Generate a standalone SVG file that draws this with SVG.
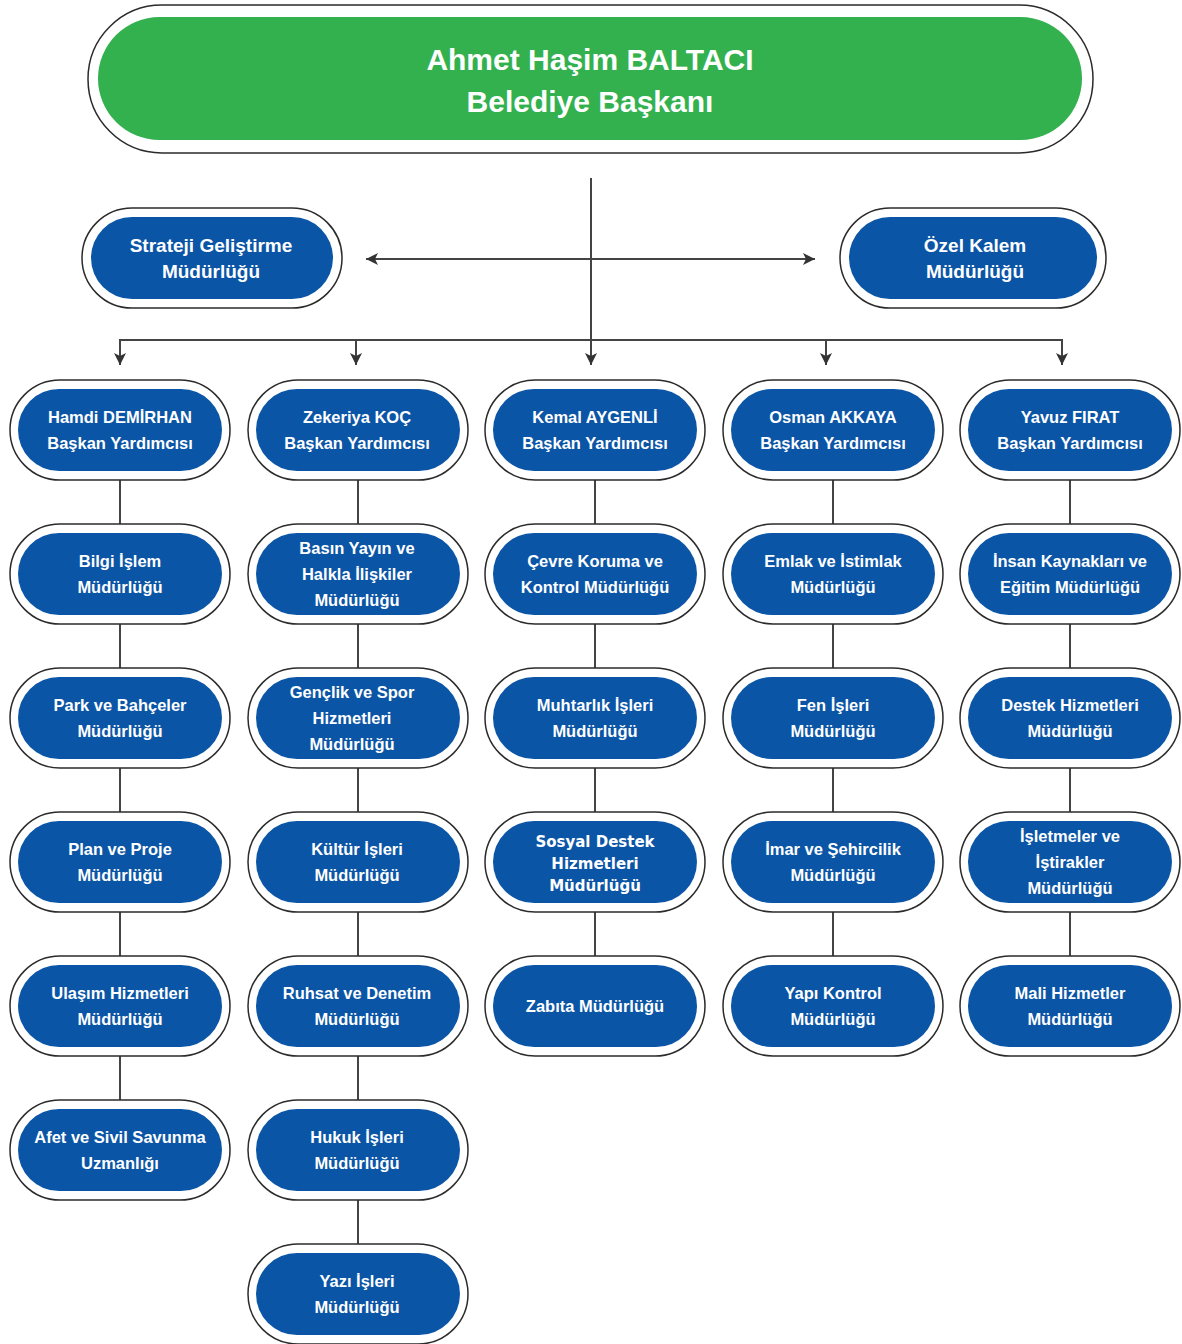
<svg xmlns="http://www.w3.org/2000/svg" width="1182" height="1344" viewBox="0 0 1182 1344">
<defs>
<style>
.outer{fill:#fff;stroke:#2b2b2b;stroke-width:1.5}
.inner{fill:#0b55a6}
.green{fill:#33b14f}
.t{font-family:"Liberation Sans",Arial,sans-serif;font-weight:bold;font-size:16.5px;fill:#fff;text-anchor:middle}
.ts{font-family:"Liberation Sans",Arial,sans-serif;font-weight:bold;font-size:19px;fill:#fff;text-anchor:middle}
.tw{font-family:"DejaVu Sans","Liberation Sans",Arial,sans-serif;font-weight:bold;font-size:15px;fill:#fff;text-anchor:middle}
.title{font-family:"Liberation Sans",Arial,sans-serif;font-weight:bold;font-size:30px;fill:#fff;text-anchor:middle}
.ln{fill:none;stroke:#444;stroke-width:2}
</style>
<marker id="ah" markerUnits="userSpaceOnUse" markerWidth="12" markerHeight="12" refX="12" refY="6" orient="auto-start-reverse" viewBox="0 0 12 12">
<path d="M0,0 L12,6 L0,12 L3,6 z" fill="#333"/>
</marker>
</defs>
<rect width="1182" height="1344" fill="#fff"/>

<g id="connectors">
<line class="ln" x1="591" y1="178" x2="591" y2="365" marker-end="url(#ah)"/>
<line class="ln" x1="366" y1="259" x2="815" y2="259" marker-start="url(#ah)" marker-end="url(#ah)"/>
<line class="ln" x1="120" y1="340" x2="1062" y2="340"/>
<line class="ln" x1="120" y1="339" x2="120" y2="365" marker-end="url(#ah)"/>
<line class="ln" x1="356" y1="339" x2="356" y2="365" marker-end="url(#ah)"/>
<line class="ln" x1="826" y1="339" x2="826" y2="365" marker-end="url(#ah)"/>
<line class="ln" x1="1062" y1="339" x2="1062" y2="365" marker-end="url(#ah)"/>
<!-- column 1 -->
<line class="ln" x1="120" y1="480" x2="120" y2="524"/>
<line class="ln" x1="120" y1="624" x2="120" y2="668"/>
<line class="ln" x1="120" y1="768" x2="120" y2="812"/>
<line class="ln" x1="120" y1="912" x2="120" y2="956"/>
<line class="ln" x1="120" y1="1056" x2="120" y2="1100"/>
<!-- column 2 -->
<line class="ln" x1="358" y1="480" x2="358" y2="524"/>
<line class="ln" x1="358" y1="624" x2="358" y2="668"/>
<line class="ln" x1="358" y1="768" x2="358" y2="812"/>
<line class="ln" x1="358" y1="912" x2="358" y2="956"/>
<line class="ln" x1="358" y1="1056" x2="358" y2="1100"/>
<line class="ln" x1="358" y1="1200" x2="358" y2="1244"/>
<!-- column 3 -->
<line class="ln" x1="595" y1="480" x2="595" y2="524"/>
<line class="ln" x1="595" y1="624" x2="595" y2="668"/>
<line class="ln" x1="595" y1="768" x2="595" y2="812"/>
<line class="ln" x1="595" y1="912" x2="595" y2="956"/>
<!-- column 4 -->
<line class="ln" x1="833" y1="480" x2="833" y2="524"/>
<line class="ln" x1="833" y1="624" x2="833" y2="668"/>
<line class="ln" x1="833" y1="768" x2="833" y2="812"/>
<line class="ln" x1="833" y1="912" x2="833" y2="956"/>
<!-- column 5 -->
<line class="ln" x1="1070" y1="480" x2="1070" y2="524"/>
<line class="ln" x1="1070" y1="624" x2="1070" y2="668"/>
<line class="ln" x1="1070" y1="768" x2="1070" y2="812"/>
<line class="ln" x1="1070" y1="912" x2="1070" y2="956"/>
</g>

<g id="baskan">
<rect class="outer" x="88" y="5" width="1005" height="148" rx="74"/>
<rect class="green" x="98" y="17" width="984" height="123" rx="61.5"/>
<text class="title" x="590" y="70">Ahmet Haşim BALTACI</text>
<text class="title" x="590" y="112">Belediye Başkanı</text>
</g>

<g id="strateji">
<rect class="outer" x="82" y="208" width="260" height="100" rx="50"/>
<rect class="inner" x="91" y="217" width="242" height="82" rx="41"/>
<text class="ts" x="211" y="252">Strateji Geliştirme</text>
<text class="ts" x="211" y="278">Müdürlüğü</text>
</g>

<g id="ozelkalem">
<rect class="outer" x="840" y="208" width="266" height="100" rx="50"/>
<rect class="inner" x="849" y="217" width="248" height="82" rx="41"/>
<text class="ts" x="975" y="252">Özel Kalem</text>
<text class="ts" x="975" y="278">Müdürlüğü</text>
</g>

<!-- Column 1 -->
<g id="hamdi">
<rect class="outer" x="10" y="380" width="220" height="100" rx="50"/>
<rect class="inner" x="18" y="389" width="204" height="82" rx="41"/>
<text class="t" x="120" y="423">Hamdi DEMİRHAN</text>
<text class="t" x="120" y="449">Başkan Yardımcısı</text>
</g>
<g id="bilgi">
<rect class="outer" x="10" y="524" width="220" height="100" rx="50"/>
<rect class="inner" x="18" y="533" width="204" height="82" rx="41"/>
<text class="t" x="120" y="567">Bilgi İşlem</text>
<text class="t" x="120" y="593">Müdürlüğü</text>
</g>
<g id="park">
<rect class="outer" x="10" y="668" width="220" height="100" rx="50"/>
<rect class="inner" x="18" y="677" width="204" height="82" rx="41"/>
<text class="t" x="120" y="711">Park ve Bahçeler</text>
<text class="t" x="120" y="737">Müdürlüğü</text>
</g>
<g id="plan">
<rect class="outer" x="10" y="812" width="220" height="100" rx="50"/>
<rect class="inner" x="18" y="821" width="204" height="82" rx="41"/>
<text class="t" x="120" y="855">Plan ve Proje</text>
<text class="t" x="120" y="881">Müdürlüğü</text>
</g>
<g id="ulasim">
<rect class="outer" x="10" y="956" width="220" height="100" rx="50"/>
<rect class="inner" x="18" y="965" width="204" height="82" rx="41"/>
<text class="t" x="120" y="999">Ulaşım Hizmetleri</text>
<text class="t" x="120" y="1025">Müdürlüğü</text>
</g>
<g id="afet">
<rect class="outer" x="10" y="1100" width="220" height="100" rx="50"/>
<rect class="inner" x="18" y="1109" width="204" height="82" rx="41"/>
<text class="t" x="120" y="1143">Afet ve Sivil Savunma</text>
<text class="t" x="120" y="1169">Uzmanlığı</text>
</g>

<!-- Column 2 -->
<g id="zekeriya">
<rect class="outer" x="248" y="380" width="220" height="100" rx="50"/>
<rect class="inner" x="256" y="389" width="204" height="82" rx="41"/>
<text class="t" x="357" y="423">Zekeriya KOÇ</text>
<text class="t" x="357" y="449">Başkan Yardımcısı</text>
</g>
<g id="basin">
<rect class="outer" x="248" y="524" width="220" height="100" rx="50"/>
<rect class="inner" x="256" y="533" width="204" height="82" rx="41"/>
<text class="t" x="357" y="554">Basın Yayın ve</text>
<text class="t" x="357" y="580">Halkla İlişkiler</text>
<text class="t" x="357" y="606">Müdürlüğü</text>
</g>
<g id="genclik">
<rect class="outer" x="248" y="668" width="220" height="100" rx="50"/>
<rect class="inner" x="256" y="677" width="204" height="82" rx="41"/>
<text class="t" x="352" y="698">Gençlik ve Spor</text>
<text class="t" x="352" y="724">Hizmetleri</text>
<text class="t" x="352" y="750">Müdürlüğü</text>
</g>
<g id="kultur">
<rect class="outer" x="248" y="812" width="220" height="100" rx="50"/>
<rect class="inner" x="256" y="821" width="204" height="82" rx="41"/>
<text class="t" x="357" y="855">Kültür İşleri</text>
<text class="t" x="357" y="881">Müdürlüğü</text>
</g>
<g id="ruhsat">
<rect class="outer" x="248" y="956" width="220" height="100" rx="50"/>
<rect class="inner" x="256" y="965" width="204" height="82" rx="41"/>
<text class="t" x="357" y="999">Ruhsat ve Denetim</text>
<text class="t" x="357" y="1025">Müdürlüğü</text>
</g>
<g id="hukuk">
<rect class="outer" x="248" y="1100" width="220" height="100" rx="50"/>
<rect class="inner" x="256" y="1109" width="204" height="82" rx="41"/>
<text class="t" x="357" y="1143">Hukuk İşleri</text>
<text class="t" x="357" y="1169">Müdürlüğü</text>
</g>
<g id="yazi">
<rect class="outer" x="248" y="1244" width="220" height="100" rx="50"/>
<rect class="inner" x="256" y="1253" width="204" height="82" rx="41"/>
<text class="t" x="357" y="1287">Yazı İşleri</text>
<text class="t" x="357" y="1313">Müdürlüğü</text>
</g>

<!-- Column 3 -->
<g id="kemal">
<rect class="outer" x="485" y="380" width="220" height="100" rx="50"/>
<rect class="inner" x="493" y="389" width="204" height="82" rx="41"/>
<text class="t" x="595" y="423">Kemal AYGENLİ</text>
<text class="t" x="595" y="449">Başkan Yardımcısı</text>
</g>
<g id="cevre">
<rect class="outer" x="485" y="524" width="220" height="100" rx="50"/>
<rect class="inner" x="493" y="533" width="204" height="82" rx="41"/>
<text class="t" x="595" y="567">Çevre Koruma ve</text>
<text class="t" x="595" y="593">Kontrol Müdürlüğü</text>
</g>
<g id="muhtarlik">
<rect class="outer" x="485" y="668" width="220" height="100" rx="50"/>
<rect class="inner" x="493" y="677" width="204" height="82" rx="41"/>
<text class="t" x="595" y="711">Muhtarlık İşleri</text>
<text class="t" x="595" y="737">Müdürlüğü</text>
</g>
<g id="sosyal">
<rect class="outer" x="485" y="812" width="220" height="100" rx="50"/>
<rect class="inner" x="493" y="821" width="204" height="82" rx="41"/>
<text class="tw" x="595" y="847">Sosyal Destek</text>
<text class="tw" x="595" y="869">Hizmetleri</text>
<text class="tw" x="595" y="891">Müdürlüğü</text>
</g>
<g id="zabita">
<rect class="outer" x="485" y="956" width="220" height="100" rx="50"/>
<rect class="inner" x="493" y="965" width="204" height="82" rx="41"/>
<text class="t" x="595" y="1012">Zabıta Müdürlüğü</text>
</g>

<!-- Column 4 -->
<g id="osman">
<rect class="outer" x="723" y="380" width="220" height="100" rx="50"/>
<rect class="inner" x="731" y="389" width="204" height="82" rx="41"/>
<text class="t" x="833" y="423">Osman AKKAYA</text>
<text class="t" x="833" y="449">Başkan Yardımcısı</text>
</g>
<g id="emlak">
<rect class="outer" x="723" y="524" width="220" height="100" rx="50"/>
<rect class="inner" x="731" y="533" width="204" height="82" rx="41"/>
<text class="t" x="833" y="567">Emlak ve İstimlak</text>
<text class="t" x="833" y="593">Müdürlüğü</text>
</g>
<g id="fen">
<rect class="outer" x="723" y="668" width="220" height="100" rx="50"/>
<rect class="inner" x="731" y="677" width="204" height="82" rx="41"/>
<text class="t" x="833" y="711">Fen İşleri</text>
<text class="t" x="833" y="737">Müdürlüğü</text>
</g>
<g id="imar">
<rect class="outer" x="723" y="812" width="220" height="100" rx="50"/>
<rect class="inner" x="731" y="821" width="204" height="82" rx="41"/>
<text class="t" x="833" y="855">İmar ve Şehircilik</text>
<text class="t" x="833" y="881">Müdürlüğü</text>
</g>
<g id="yapi">
<rect class="outer" x="723" y="956" width="220" height="100" rx="50"/>
<rect class="inner" x="731" y="965" width="204" height="82" rx="41"/>
<text class="t" x="833" y="999">Yapı Kontrol</text>
<text class="t" x="833" y="1025">Müdürlüğü</text>
</g>

<!-- Column 5 -->
<g id="yavuz">
<rect class="outer" x="960" y="380" width="220" height="100" rx="50"/>
<rect class="inner" x="968" y="389" width="204" height="82" rx="41"/>
<text class="t" x="1070" y="423">Yavuz FIRAT</text>
<text class="t" x="1070" y="449">Başkan Yardımcısı</text>
</g>
<g id="insan">
<rect class="outer" x="960" y="524" width="220" height="100" rx="50"/>
<rect class="inner" x="968" y="533" width="204" height="82" rx="41"/>
<text class="t" x="1070" y="567">İnsan Kaynakları ve</text>
<text class="t" x="1070" y="593">Eğitim Müdürlüğü</text>
</g>
<g id="destek">
<rect class="outer" x="960" y="668" width="220" height="100" rx="50"/>
<rect class="inner" x="968" y="677" width="204" height="82" rx="41"/>
<text class="t" x="1070" y="711">Destek Hizmetleri</text>
<text class="t" x="1070" y="737">Müdürlüğü</text>
</g>
<g id="isletmeler">
<rect class="outer" x="960" y="812" width="220" height="100" rx="50"/>
<rect class="inner" x="968" y="821" width="204" height="82" rx="41"/>
<text class="t" x="1070" y="842">İşletmeler ve</text>
<text class="t" x="1070" y="868">İştirakler</text>
<text class="t" x="1070" y="894">Müdürlüğü</text>
</g>
<g id="mali">
<rect class="outer" x="960" y="956" width="220" height="100" rx="50"/>
<rect class="inner" x="968" y="965" width="204" height="82" rx="41"/>
<text class="t" x="1070" y="999">Mali Hizmetler</text>
<text class="t" x="1070" y="1025">Müdürlüğü</text>
</g>
</svg>
